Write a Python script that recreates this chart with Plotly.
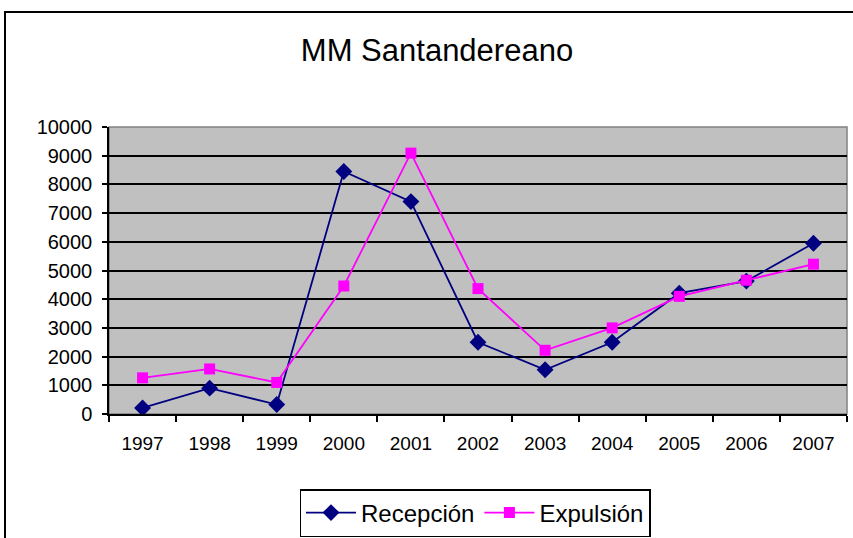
import plotly.graph_objects as go

# data
years = ["1997", "1998", "1999", "2000", "2001", "2002", "2003", "2004", "2005", "2006", "2007"]
recepcion = [210, 900, 330, 8450, 7400, 2500, 1540, 2500, 4210, 4630, 5950]
expulsion = [1260, 1570, 1100, 4460, 9090, 4370, 2220, 3000, 4100, 4660, 5220]

W, H = 853, 538
L, R, T, B = 109, 6, 127, 124

fig = go.Figure()
fig.add_trace(go.Scatter(
    x=years, y=recepcion, name="Recepción", mode="lines+markers",
    line=dict(color="#000080", width=1.8),
    marker=dict(symbol="diamond", size=13, color="#000080"),
))
fig.add_trace(go.Scatter(
    x=years, y=expulsion, name="Expulsión", mode="lines+markers",
    line=dict(color="#FF00FF", width=1.8),
    marker=dict(symbol="square", size=11, color="#FF00FF"),
))

pw, ph = W - L - R, H - T - B

def px_x(p):
    return (p - L) / pw

def px_y(p):
    return (H - B - p) / ph

fig.update_layout(
    width=W, height=H,
    margin=dict(l=L, r=R, t=T, b=B, autoexpand=False),
    paper_bgcolor="white",
    plot_bgcolor="#C0C0C0",
    font=dict(family="Liberation Sans, Arial", size=19, color="black"),
    title=dict(text="MM Santandereano", x=437 / W, y=1 - 50 / H, xref="container",
               xanchor="center", yanchor="middle", font=dict(size=31)),
    showlegend=True,
    legend=dict(orientation="h", x=px_x(475), xanchor="center", y=px_y(489), yanchor="top",
                bordercolor="black", borderwidth=1.5, font=dict(size=24),
                bgcolor="white", itemwidth=50),
    shapes=[
        dict(type="rect", xref="paper", yref="paper", x0=0, x1=1, y0=0, y1=1,
             line=dict(color="#808080", width=1.5), layer="below"),
        dict(type="rect", xref="paper", yref="paper", x0=px_x(5), x1=px_x(870),
             y0=px_y(560), y1=px_y(12), line=dict(color="black", width=2)),
    ],
)
fig.update_xaxes(
    type="category", tickson="boundaries", showgrid=False,
    showline=True, linecolor="black", linewidth=1.5,
    ticks="outside", ticklen=6, tickcolor="black", tickwidth=1.5,
    ticklabelstandoff=11,
    range=[-0.5, 10.5], fixedrange=True,
)
fig.update_yaxes(
    range=[0, 10000], dtick=1000, tick0=0, tickformat="d",
    showgrid=True, gridcolor="black", gridwidth=1.5,
    showline=True, linecolor="black", linewidth=1.5,
    ticks="outside", ticklen=5, tickcolor="black", tickwidth=1.5,
    ticklabelstandoff=6, tickfont=dict(size=20),
    zeroline=False,
)

# the page adds an 8px body margin by default; drop it so the figure sits at 0,0
fig.write_html("out.html", config={"displayModeBar": False},
               post_script="document.body.style.margin='0';")
